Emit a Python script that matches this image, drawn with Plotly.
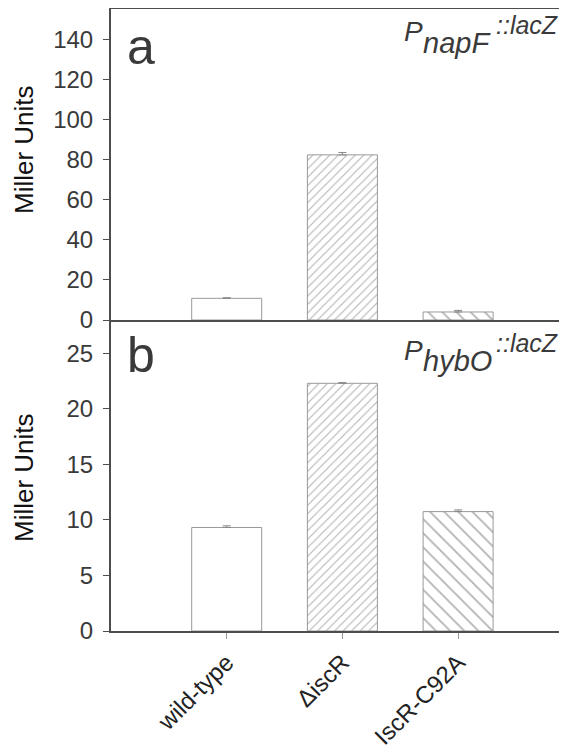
import plotly.graph_objects as go
from plotly.subplots import make_subplots

categories = ["wild-type", "\u0394iscR", "IscR-C92A"]
napF_values = [10.8, 82.3, 4.0]
napF_errors = [0.3, 1.2, 0.8]
hybO_values = [9.32, 22.3, 10.75]
hybO_errors = [0.15, 0.06, 0.15]
napF_ticks = [0, 20, 40, 60, 80, 100, 120, 140]
hybO_ticks = [0, 5, 10, 15, 20, 25]
patterns = ["", "/", "\\"]
pattern_sizes = [8, 6, 10]

# page offset (browser body margin)
OFF = 8
W, H = 567 - OFF, 749 - OFF
PLOT_L, PLOT_T, PLOT_B = 111, 9, 631   # page pixel coordinates of plot area
ML, MR, MT, MB = PLOT_L - OFF, 0, PLOT_T - OFF, H - (PLOT_B - OFF)
PW, PH = W - ML - MR, H - MT - MB

def px(x):
    return (x - PLOT_L) / PW

def py(y):
    return (PLOT_B - y) / PH

FONT = "Liberation Sans, Arial, sans-serif"
AX = "#4d4d4d"
TXT = "#3a3a3a"

fig = make_subplots(rows=2, cols=1, shared_xaxes=True, vertical_spacing=0)

def bars(vals, errs):
    return go.Bar(
        x=categories, y=vals, width=0.605,
        marker=dict(color="white", line=dict(color="#999999", width=1),
                    pattern=dict(shape=patterns, size=pattern_sizes, fgcolor="#666666",
                                 bgcolor="white", solidity=0.18, fillmode="overlay")),
        error_y=dict(type="data", array=errs, arrayminus=[0] * len(errs), symmetric=False,
                     color="#888888", thickness=1, width=4),
        showlegend=False,
    )

fig.add_trace(bars(napF_values, napF_errors), row=1, col=1)
fig.add_trace(bars(hybO_values, hybO_errors), row=2, col=1)

xr = [-1, -1 + PW / 115.7]
fig.update_xaxes(range=xr, showline=True, linecolor=AX, linewidth=2, showgrid=False, zeroline=False,
                 automargin=False)
fig.update_xaxes(row=1, col=1, mirror=True, ticks="", showticklabels=False)
fig.update_xaxes(row=2, col=1, ticks="outside", ticklen=6, tickcolor="#999999", tickwidth=1,
                 tickangle=-45, tickfont=dict(family=FONT, size=24, color="#222222"))
fig.update_yaxes(showline=True, linecolor=AX, linewidth=2, showgrid=False, zeroline=False,
                 ticks="outside", ticklen=6, tickcolor=AX, tickwidth=1, automargin=False,
                 ticklabelstandoff=5, tickfont=dict(family=FONT, size=24, color=TXT))
fig.update_yaxes(row=1, col=1, range=[0, 155], tickvals=napF_ticks, domain=[0.5, 1])
fig.update_yaxes(row=2, col=1, range=[0, 28], tickvals=hybO_ticks, domain=[0, 0.5])

ann = []
def note(text, x, y, size, xanchor="left", angle=0, color=TXT):
    ann.append(dict(text=text, x=px(x), y=py(y), xref="paper", yref="paper", textangle=angle,
                    xanchor=xanchor, yanchor="middle", showarrow=False,
                    font=dict(family=FONT, size=size, color=color)))

for yc in (150, 478):
    note("Miller Units", 24, yc, 26, xanchor="center", angle=-90, color="#111111")
note("a", 125, 47, 50)
note("b", 125, 355, 50)

# promoter labels: P, subscript gene, ::lacZ
for top, gene in ((0, "napF"), (318, "hybO")):
    note("<i>P</i>", 402, top + 32, 28)
    note("<i>%s</i>" % gene, 421, top + 43, 29)
    note("<i>::lacZ</i>", 494, top + 25, 25)

fig.update_layout(width=W, height=H, margin=dict(l=ML, r=MR, t=MT, b=MB),
                  plot_bgcolor="white", paper_bgcolor="white", annotations=ann, bargap=0.4)
fig.write_html("out.html")
